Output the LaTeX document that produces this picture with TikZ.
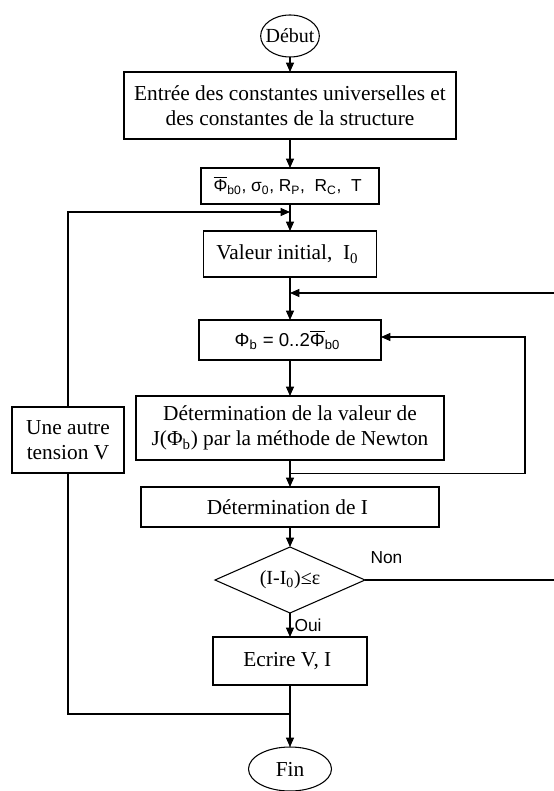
\documentclass[tikz,border=0pt]{standalone}
\usepackage{fontspec}
\setmainfont{Liberation Serif}
\newfontfamily\arialfont{Liberation Sans}
\usetikzlibrary{positioning,shapes.geometric,arrows.meta,calc}

% Phi avec une barre
\newcommand{\barphi}{\vbox{\hrule height 0.6pt\kern1.2pt\hbox{Φ}}}

\begin{document}
\begin{tikzpicture}[x=0.75pt, y=-0.75pt, >={Triangle[length=7pt,width=6pt]},
    every node/.style={font=\fontsize{16}{19}\selectfont},
    boite/.style={draw, line width=0.8pt, align=center, inner sep=0pt, outer sep=0pt},
    bord/.style={draw, ellipse, line width=0.8pt, inner ysep=0pt, inner xsep=-2pt, outer sep=0pt},
    test/.style={draw, diamond, aspect=2.27, line width=0.8pt, inner sep=0pt, outer sep=0pt,
        font=\fontsize{15}{18}\selectfont},
    sans/.style={font=\arialfont\fontsize{14}{17}\selectfont},
    etiq/.style={font=\arialfont\fontsize{13}{15}\selectfont, inner sep=0pt},
    fleche/.style={->, line width=0.8pt},
    trait/.style={line width=0.8pt}]

    \useasboundingbox (0,0) rectangle (553,791);

    % Debut
    \node[bord, font=\fontsize{15}{18}\selectfont, inner xsep=-5pt, minimum width=44pt, minimum height=31.5pt] (debut) at (290,36) {Début};

    % Constantes
    \node[boite, minimum width=249pt, minimum height=50.25pt, below=11.25pt of debut] (entree) {
    Entrée des constantes universelles et\\
    des constantes de la structure
    };

    % Parametres
    \node[boite, sans, font=\arialfont\fontsize{13}{15}\selectfont, minimum width=133.5pt, minimum height=27pt, below=21.75pt of entree] (params) {
    \barphi\textsubscript{b0}, σ\textsubscript{0}, R\textsubscript{P},\ \ R\textsubscript{C},\ \ T
    };

    % Valeur initiale
    \node[boite, minimum width=129.75pt, minimum height=34.5pt, below=20.25pt of params] (valeur) {
    Valeur initial,\ \ I\textsubscript{0}
    };

    % Balayage de Phi_b
    \node[boite, sans, minimum width=136.5pt, minimum height=30pt, below=32.25pt of valeur] (phib) {
    Φ\textsubscript{b} = 0..2\barphi\textsubscript{b0}
    };

    % Newton
    \node[boite, minimum width=231pt, minimum height=48pt, below=27pt of phib] (newton) {
    Détermination de la valeur de\\
    J(Φ\textsubscript{b}) par la méthode de Newton
    };

    % Calcul de I
    \node[boite, minimum width=223.5pt, minimum height=30pt, below=20.25pt of newton] (detI) {
    Détermination de I
    };

    % Test de convergence
    \node[test, minimum width=112.5pt, minimum height=49.5pt, below=15pt of detI] (conv) {
    (I-I\textsubscript{0})≤ε
    };

    % Sortie
    \node[boite, minimum width=115.5pt, minimum height=36pt, below=18pt of conv] (ecrire) {
    Ecrire V, I
    };

    % Fin
    \node[bord, minimum width=62.25pt, minimum height=33pt, below=46.5pt of ecrire] (fin) {Fin};

    % Autre tension
    \node[boite, minimum width=84pt, minimum height=49.5pt] (autre) at (68,440) {
    Une autre\\
    tension V
    };

    % Points de jonction
    \coordinate (jp) at ([yshift=-6pt]params.south);
    \coordinate (jv) at ([yshift=-12pt]valeur.south);
    \coordinate (jn) at ($(newton.south)!0.5!(detI.north)$);
    \coordinate (jf) at ([yshift=-21.75pt]ecrire.south);
    \coordinate (boucleD) at (525,0);
    \coordinate (boucleE) at (565,0);

    % Fleches principales
    \draw[fleche] (debut) -- (entree);
    \draw[fleche] (entree) -- (params);
    \draw[fleche] (params) -- (valeur);
    \draw[fleche] (valeur) -- (phib);
    \draw[fleche] (phib) -- (newton);
    \draw[fleche] (newton) -- (detI);
    \draw[fleche] (detI) -- (conv);
    \draw[fleche] (conv) -- node[etiq, pos=0.5, anchor=west, xshift=3pt]{Oui} (ecrire);
    \draw[fleche] (ecrire) -- (fin);

    % Boucle sur Phi_b
    \draw[fleche] (jn) -- (jn -| boucleD) |- ([yshift=2.25pt]phib.east);

    % Boucle Non
    \draw[fleche] (conv.east) -- node[etiq, at start, anchor=south west, xshift=3.75pt, yshift=12pt]{Non}
        (conv.east -| boucleE) |- (jv);

    % Boucle sur V
    \draw[trait] (jf) -| (autre.south);
    \draw[fleche] (autre.north) |- (jp);
\end{tikzpicture}
\end{document}
